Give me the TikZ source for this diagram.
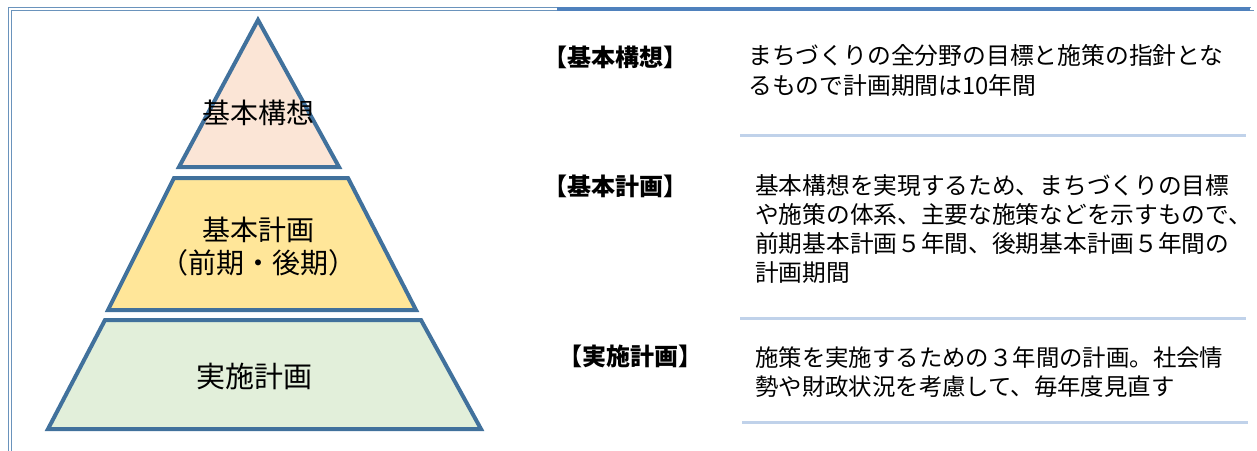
\documentclass[tikz,border=0pt]{standalone}
\usepackage{fontspec}
\newfontfamily\cjk{Noto Sans CJK JP}
\definecolor{pstroke}{HTML}{41719C}
\definecolor{ftop}{HTML}{FBE5D6}
\definecolor{fmid}{HTML}{FFE699}
\definecolor{fbot}{HTML}{E2EFDA}
\definecolor{sepc}{HTML}{C0D2EA}
\definecolor{framec}{HTML}{6A93BC}
\definecolor{framedk}{HTML}{4F81BD}
\tikzset{
  tier/.style={draw=pstroke, line width=4pt, line join=miter},
  ptext/.style={font=\cjk\fontsize{28}{33}\selectfont, align=center, inner sep=0pt},
  lbl/.style={font=\cjk\bfseries\fontsize{24}{28}\selectfont, inner sep=0pt},
  desc/.style={align=left, anchor=base west, inner sep=0pt},
  sep/.style={draw=sepc, line width=3pt},
  frm/.style={draw=framec, line width=1.3pt}
}
\begin{document}
\begin{tikzpicture}[x=1pt,y=-1pt]
\useasboundingbox (0,0) rectangle (1257,450);
% frame
\draw[frm] (8.5,452) -- (8.5,7.5) -- (1251,7.5);
\draw[frm] (11.5,452) -- (11.5,10.5) -- (1254,10.5);
\draw[draw=framedk, line width=3.5pt] (557,9) -- (1250,9);
% pyramid
\draw[tier, fill=ftop] (258,20) -- (339,167) -- (179,167) -- cycle;
\draw[tier, fill=fmid] (174,178) -- (348,178) -- (416,310) -- (108,310) -- cycle;
\draw[tier, fill=fbot] (105,320) -- (421,320) -- (481,429) -- (48,429) -- cycle;
\node[ptext] (t1) at (258,113) {基本構想};
\node[ptext] (t2) at (258,247) {基本計画\\（前期・後期）};
\node[ptext, font=\cjk\fontsize{29}{33}\selectfont] (t3) at (254,376) {実施計画};
% labels
\node[lbl] (l1) at (615,57) {【基本構想】};
\node[lbl] (l2) at (615,186) {【基本計画】};
\node[lbl] (l3) at (630,356) {【実施計画】};
% descriptions
\node[desc, font=\cjk\fontsize{23.8}{30}\selectfont] (d1) at (748,94) {まちづくりの全分野の目標と施策の指針とな\\るもので計画期間は10年間};
\node[desc, font=\cjk\fontsize{23.7}{28.7}\selectfont] (d2) at (755,281) {基本構想を実現するため、まちづくりの目標\\や施策の体系、主要な施策などを示すもので、\\前期基本計画５年間、後期基本計画５年間の\\計画期間};
\node[desc, font=\cjk\fontsize{23.4}{29}\selectfont] (d3) at (755,395) {施策を実施するための３年間の計画。社会情\\勢や財政状況を考慮して、毎年度見直す};
% separators
\coordinate (s1a) at (740,135); \coordinate (s1b) at (1246,135);
\coordinate (s2a) at (740,318); \coordinate (s2b) at (1246,318);
\coordinate (s3a) at (742,422); \coordinate (s3b) at (1248,422);
\draw[sep] (s1a) -- (s1b);
\draw[sep] (s2a) -- (s2b);
\draw[sep] (s3a) -- (s3b);
\end{tikzpicture}
\end{document}
